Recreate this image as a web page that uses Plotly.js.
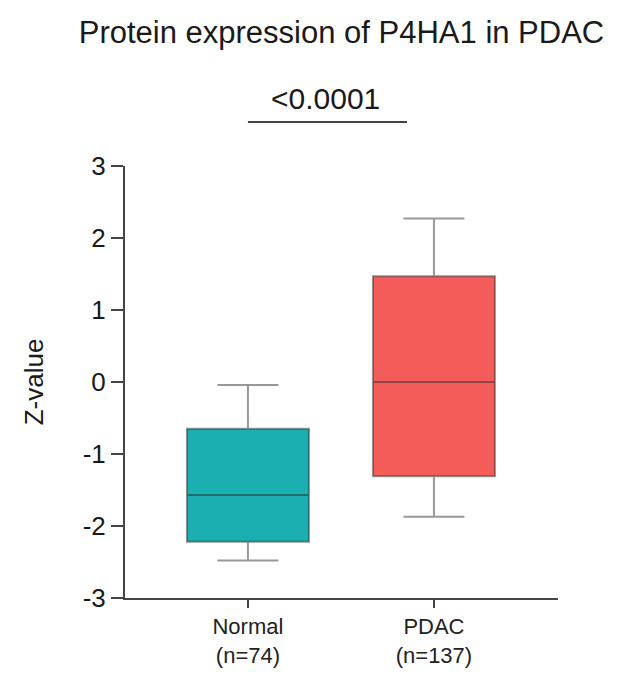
<!DOCTYPE html>
<html>
<head>
<meta charset="utf-8">
<script src="https://cdn.plot.ly/plotly-3.0.1.min.js"></script>
<style>
  html, body { margin: 0; padding: 0; background: #fff; }
  #chart { width: 622px; height: 675px; }
</style>
</head>
<body>
<div id="chart"></div>
<script>
// Group labels and box statistics (Z-values)
const groups = ['Normal', 'PDAC'];
const groupLabels = ['Normal<br>(n=74)', 'PDAC<br>(n=137)'];
const lowerWhisker = [-2.48, -1.87];
const q1Values = [-2.22, -1.31];
const medians = [-1.57, 0.0];
const q3Values = [-0.65, 1.47];
const upperWhisker = [-0.04, 2.27];
const fillColors = ['#1bafb1', '#f35c58'];
const yTicks = [-3, -2, -1, 0, 1, 2, 3];
const yTickText = ['-3', '-2', '-1', '0', '1', '2', '3'];
const pValueText = '<0.0001';

const font = 'Liberation Sans, Arial, sans-serif';

const traces = groups.map((g, i) => ({
  type: 'box',
  name: g,
  x: [g],
  q1: [q1Values[i]],
  median: [medians[i]],
  q3: [q3Values[i]],
  lowerfence: [lowerWhisker[i]],
  upperfence: [upperWhisker[i]],
  width: 0.656,
  whiskerwidth: 0.5,
  fillcolor: fillColors[i],
  line: { color: 'rgba(40,40,40,0.48)', width: 2 },
  boxpoints: false,
  hoverinfo: 'skip'
}));

const layout = {
  width: 622,
  height: 675,
  margin: { l: 125, r: 64, t: 166, b: 77 },
  paper_bgcolor: '#fff',
  plot_bgcolor: '#fff',
  showlegend: false,
  font: { family: font, color: '#1a1a1a' },
  title: {
    text: 'Protein expression of P4HA1 in PDAC',
    font: { family: font, size: 31, color: '#1a1a1a' },
    x: 0.5, xref: 'paper', xanchor: 'center',
    y: 0.952, yref: 'container', yanchor: 'middle'
  },
  xaxis: {
    type: 'category',
    range: [-0.661, 1.667],
    tickvals: groups,
    ticktext: groupLabels,
    showline: true, linecolor: '#444', linewidth: 2,
    ticks: 'outside', ticklen: 8, tickwidth: 2, tickcolor: '#444',
    tickfont: { family: font, size: 22, color: '#222' },
    showgrid: false, zeroline: false, fixedrange: true
  },
  yaxis: {
    range: [-3, 3],
    tickvals: yTicks,
    ticktext: yTickText,
    showline: true, linecolor: '#444', linewidth: 2,
    ticks: 'outside', ticklen: 12, tickwidth: 2, tickcolor: '#444',
    tickfont: { family: font, size: 26, color: '#1a1a1a' },
    showgrid: false, zeroline: false, fixedrange: true,
    title: { text: 'Z-value', font: { family: font, size: 26, color: '#1a1a1a' }, standoff: 32 }
  },
  shapes: [{
    type: 'line', xref: 'x', yref: 'paper',
    x0: 0, x1: 0.855, y0: 1.102, y1: 1.102,
    line: { color: '#444', width: 2 }
  }],
  annotations: [{
    xref: 'x', yref: 'paper', x: 0.415, y: 1.157,
    text: pValueText, showarrow: false,
    font: { family: font, size: 30, color: '#1a1a1a' },
    xanchor: 'center', yanchor: 'middle'
  }]
};

Plotly.newPlot('chart', traces, layout, { displayModeBar: false, staticPlot: true });
</script>
</body>
</html>
